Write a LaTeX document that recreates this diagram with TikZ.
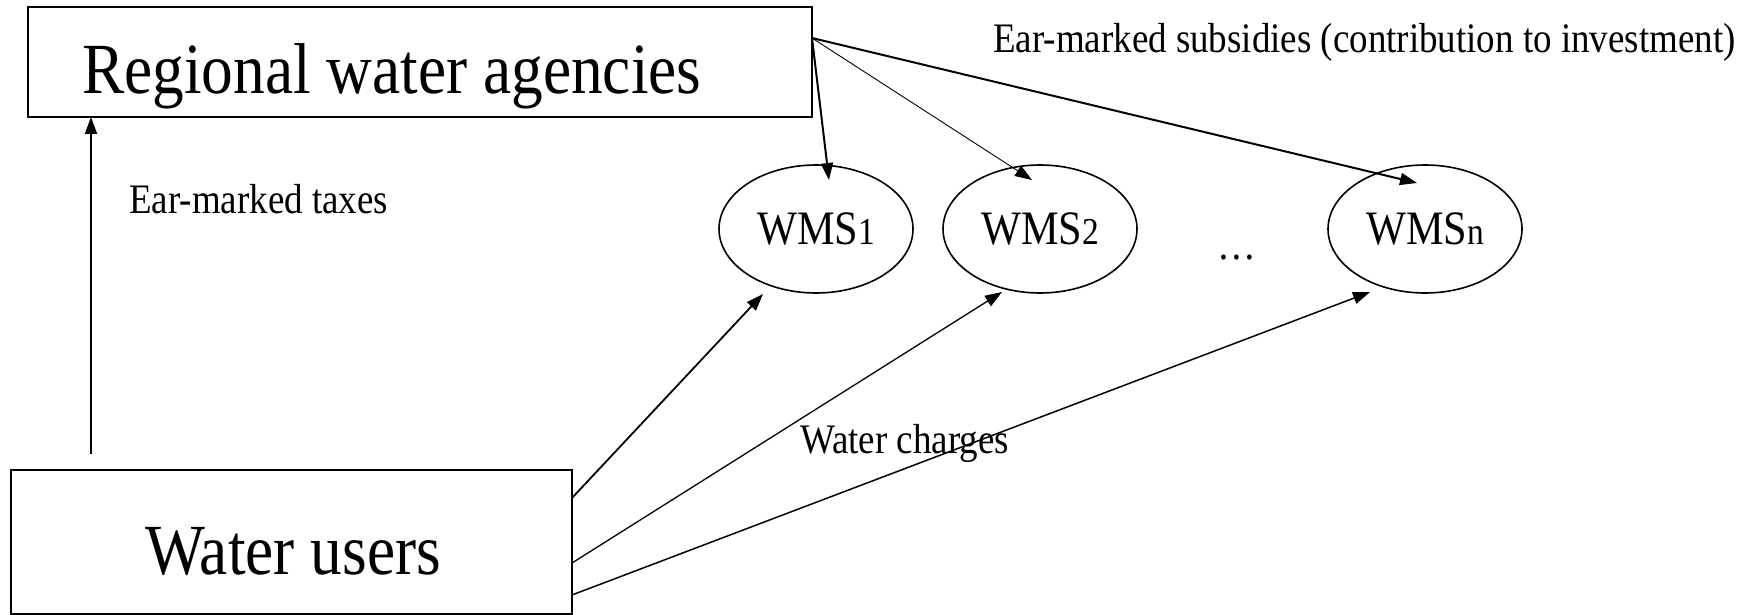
\documentclass[tikz,border=0pt]{standalone}
\usepackage{fontspec}
\setmainfont[FakeStretch=0.88]{Liberation Serif}
\usetikzlibrary{arrows.meta,calc,shapes.geometric}
\begin{document}
\begin{tikzpicture}[x=1pt,y=-1pt,
  wms/.style={draw,ellipse,line width=1.6pt,minimum width=194pt,minimum height=128pt,inner sep=0pt,font=\fontsize{48}{54}\selectfont},
  lbl/.style={anchor=base west,inner sep=0pt,font=\fontsize{42}{48}\selectfont},
  big/.style={anchor=base west,inner sep=0pt,font=\fontsize{72}{80}\selectfont},
  arr/.style={-{Triangle[length=17pt,width=12pt]},line width=#1},
  arr/.default=2pt]
\useasboundingbox (0,0) rectangle (1756,615);

% boxes
\draw[line width=1.8pt] (28,7) rectangle (812,117);
\coordinate (raTR) at (812,38);
\draw[line width=1.8pt] (11,470) rectangle (572,614);
\coordinate (wuA) at (572,498);
\coordinate (wuB) at (572,563);
\coordinate (wuC) at (572,595);

\node[big] (ratext) at (82,94) {Regional water agencies};
\node[big] (wutext) at (145,574) {Water users};

% water management structures
\node[wms] (w1) at (816,229) {WMS{\fontsize{38}{44}\selectfont 1}};
\node[wms] (w2) at (1040,229) {WMS{\fontsize{38}{44}\selectfont 2}};
\node[wms] (wn) at (1425,229) {WMS{\fontsize{38}{44}\selectfont n}};
\node[inner sep=0pt,font=\fontsize{44}{50}\selectfont] (dots) at (1237,258) {\ldots};

% labels
\node[lbl] (subs) at (993,53) {Ear-marked subsidies (contribution to investment)};
\node[lbl] (taxes) at (129,213) {Ear-marked taxes};
\node[lbl] (charges) at (800,453) {Water charges};

% taxes
\coordinate (taxfoot) at (91,454);
\draw[arr=1.8pt] (taxfoot) -- (91,117);

% subsidies
\draw[arr=2pt] (raTR) -- ($(w1.center)+(13,-49)$);
\draw[arr=0.9pt] (raTR) -- ($(w2.center)+(-8,-49)$);
\draw[arr=2pt] (raTR) -- ($(wn.center)+(-8,-46)$);

% charges
\draw[arr=1.8pt] (wuA) -- ($(w1.center)+(-53,65)$);
\draw[arr=1.3pt] (wuB) -- ($(w2.center)+(-38,63)$);
\draw[arr=1.5pt] (wuC) -- ($(wn.center)+(-55,63)$);
\end{tikzpicture}
\end{document}
